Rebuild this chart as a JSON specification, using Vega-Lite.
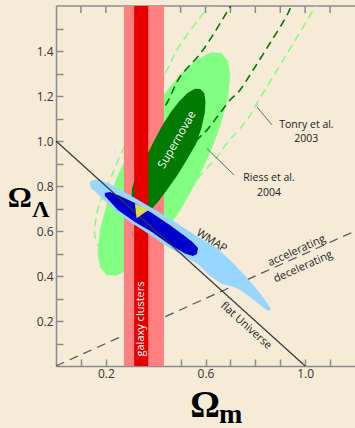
{
  "$schema": "https://vega.github.io/schema/vega-lite/v6.json",
  "width": 299,
  "height": 360,
  "autosize": {"type": "none"},
  "padding": {"left": 56, "top": 6, "right": 0, "bottom": 62},
  "background": "#F5EBD7",
  "config": {"view": {"stroke": null}},
  "datasets": {
    "lg": [
      {"i":0,"om":0.664,"ol":1.391},{"i":1,"om":0.691,"ol":1.355},{"i":2,"om":0.699,"ol":1.287},{"i":3,"om":0.690,"ol":1.193},
      {"i":4,"om":0.663,"ol":1.079},{"i":5,"om":0.621,"ol":0.952},{"i":6,"om":0.565,"ol":0.822},{"i":7,"om":0.501,"ol":0.697},
      {"i":8,"om":0.432,"ol":0.586},{"i":9,"om":0.363,"ol":0.496},{"i":10,"om":0.299,"ol":0.433},{"i":11,"om":0.244,"ol":0.402},
      {"i":12,"om":0.202,"ol":0.404},{"i":13,"om":0.176,"ol":0.441},{"i":14,"om":0.167,"ol":0.508},{"i":15,"om":0.176,"ol":0.602},
      {"i":16,"om":0.203,"ol":0.717},{"i":17,"om":0.246,"ol":0.843},{"i":18,"om":0.301,"ol":0.973},{"i":19,"om":0.365,"ol":1.099},
      {"i":20,"om":0.434,"ol":1.210},{"i":21,"om":0.503,"ol":1.300},{"i":22,"om":0.567,"ol":1.363},{"i":23,"om":0.622,"ol":1.394}
    ],
    "dg": [
      {"i":0,"om":0.580,"ol":1.231},{"i":1,"om":0.595,"ol":1.212},{"i":2,"om":0.600,"ol":1.175},{"i":3,"om":0.597,"ol":1.123},
      {"i":4,"om":0.584,"ol":1.059},{"i":5,"om":0.562,"ol":0.987},{"i":6,"om":0.522,"ol":0.911},{"i":7,"om":0.485,"ol":0.844},
      {"i":8,"om":0.445,"ol":0.782},{"i":9,"om":0.409,"ol":0.729},{"i":10,"om":0.381,"ol":0.693},{"i":11,"om":0.357,"ol":0.673},
      {"i":12,"om":0.3286,"ol":0.6711},{"i":13,"om":0.3085,"ol":0.698},{"i":14,"om":0.3025,"ol":0.7333},{"i":15,"om":0.3045,"ol":0.7867},
      {"i":16,"om":0.3206,"ol":0.8444},{"i":17,"om":0.355,"ol":0.915},{"i":18,"om":0.388,"ol":0.989},{"i":19,"om":0.422,"ol":1.060},
      {"i":20,"om":0.458,"ol":1.124},{"i":21,"om":0.494,"ol":1.176},{"i":22,"om":0.528,"ol":1.213},{"i":23,"om":0.557,"ol":1.232}
    ],
    "riess": [
      {"i":0,"om":0.7387,"ol":1.6711},{"i":1,"om":0.6985,"ol":1.5956},{"i":2,"om":0.5899,"ol":1.4044},{"i":3,"om":0.4975,"ol":1.2844},
      {"i":4,"om":0.4452,"ol":1.1689},{"i":5,"om":0.3769,"ol":1.0578},{"i":6,"om":0.3367,"ol":0.96},{"i":7,"om":0.3407,"ol":0.88},
      {"i":8,"om":0.3769,"ol":0.8267},{"i":9,"om":0.4372,"ol":0.8444},{"i":10,"om":0.5176,"ol":0.9378},{"i":11,"om":0.5658,"ol":1.0044},
      {"i":12,"om":0.6060,"ol":1.0489},{"i":13,"om":0.6462,"ol":1.1067},{"i":14,"om":0.6985,"ol":1.1822},{"i":15,"om":0.7387,"ol":1.2267},
      {"i":16,"om":0.7910,"ol":1.3156},{"i":17,"om":0.8593,"ol":1.4356},{"i":18,"om":0.9317,"ol":1.5689},{"i":19,"om":0.9638,"ol":1.6711}
    ],
    "tonry": [
      {"i":0,"om":0.6503,"ol":1.6711},{"i":1,"om":0.6060,"ol":1.5911},{"i":2,"om":0.4975,"ol":1.4267},{"i":3,"om":0.4452,"ol":1.3156},
      {"i":4,"om":0.3568,"ol":1.1467},{"i":5,"om":0.2683,"ol":0.96},{"i":6,"om":0.2281,"ol":0.8578},{"i":7,"om":0.1759,"ol":0.7244},
      {"i":8,"om":0.1598,"ol":0.6489},{"i":9,"om":0.1558,"ol":0.5822},{"i":10,"om":0.1759,"ol":0.5289},{"i":11,"om":0.2241,"ol":0.5156},
      {"i":12,"om":0.2965,"ol":0.56},{"i":13,"om":0.4171,"ol":0.6489},{"i":14,"om":0.5377,"ol":0.7956},{"i":15,"om":0.6462,"ol":0.9289},
      {"i":16,"om":0.6864,"ol":0.9911},{"i":17,"om":0.7668,"ol":1.0933},{"i":18,"om":0.8070,"ol":1.1689},{"i":19,"om":0.9236,"ol":1.3822},
      {"i":20,"om":1.0402,"ol":1.5956},{"i":21,"om":1.0804,"ol":1.6711}
    ],
    "lb": [
      {"i":0,"om":0.1357,"ol":0.8133},{"i":1,"om":0.1477,"ol":0.8267},{"i":2,"om":0.1719,"ol":0.8289},{"i":3,"om":0.2241,"ol":0.8044},
      {"i":4,"om":0.3166,"ol":0.7467},{"i":5,"om":0.3849,"ol":0.7022},{"i":6,"om":0.4653,"ol":0.6489},{"i":7,"om":0.5578,"ol":0.5822},
      {"i":8,"om":0.5980,"ol":0.5556},{"i":9,"om":0.6462,"ol":0.5244},{"i":10,"om":0.7106,"ol":0.4578},{"i":11,"om":0.7668,"ol":0.3911},
      {"i":12,"om":0.8191,"ol":0.3244},{"i":13,"om":0.8472,"ol":0.2800},{"i":14,"om":0.8633,"ol":0.2533},{"i":15,"om":0.8513,"ol":0.2444},
      {"i":16,"om":0.8191,"ol":0.2711},{"i":17,"om":0.7789,"ol":0.3067},{"i":18,"om":0.7467,"ol":0.3333},{"i":19,"om":0.7226,"ol":0.3467},
      {"i":20,"om":0.6985,"ol":0.3556},{"i":21,"om":0.6663,"ol":0.3644},{"i":22,"om":0.6181,"ol":0.4},{"i":23,"om":0.5698,"ol":0.4533},
      {"i":24,"om":0.5176,"ol":0.4844},{"i":25,"om":0.4492,"ol":0.5289},{"i":26,"om":0.3849,"ol":0.5778},{"i":27,"om":0.3166,"ol":0.6267},
      {"i":28,"om":0.2482,"ol":0.68},{"i":29,"om":0.1960,"ol":0.7333},{"i":30,"om":0.1598,"ol":0.7733},{"i":31,"om":0.1397,"ol":0.7911}
    ],
    "db": [
      {"i":0,"om":0.1960,"ol":0.7689},{"i":1,"om":0.2161,"ol":0.7733},{"i":2,"om":0.2482,"ol":0.76},{"i":3,"om":0.3166,"ol":0.7244},
      {"i":4,"om":0.3849,"ol":0.68},{"i":5,"om":0.4653,"ol":0.62},{"i":6,"om":0.5457,"ol":0.5533},{"i":7,"om":0.5698,"ol":0.5244},
      {"i":8,"om":0.5658,"ol":0.4978},{"i":9,"om":0.5497,"ol":0.4889},{"i":10,"om":0.5176,"ol":0.5},{"i":11,"om":0.4492,"ol":0.5444},
      {"i":12,"om":0.3849,"ol":0.5956},{"i":13,"om":0.3166,"ol":0.64},{"i":14,"om":0.2482,"ol":0.6933},{"i":15,"om":0.2080,"ol":0.7422},
      {"i":16,"om":0.1960,"ol":0.7556}
    ],
    "yel": [
      {"i":0,"om":0.3166,"ol":0.7231},{"i":1,"om":0.3709,"ol":0.6933},{"i":2,"om":0.3234,"ol":0.6564}
    ]
  },
  "encoding": {
    "x": {"field": "om", "type": "quantitative", "title": null,
      "scale": {"domain": [0, 1.2], "nice": false, "zero": false},
      "axis": {"orient": "bottom", "values": [0.1,0.2,0.3,0.4,0.5,0.6,0.7,0.8,0.9,1.0,1.1],
        "labelExpr": "indexof([2,6,10], round(datum.value*10)) >= 0 ? format(datum.value, '.1f') : ''",
        "labelOverlap": false, "labelFlush": false, "grid": false,
        "tickSize": -7, "tickWidth": 1.5, "tickColor": "#8C8C8C", "domainColor": "#8C8C8C", "domainWidth": 1.5,
        "labelFont": "Open Sans", "labelFontSize": 12, "labelColor": "#333333", "labelPadding": 9}},
    "y": {"field": "ol", "type": "quantitative", "title": null,
      "scale": {"domain": [0, 1.6], "nice": false, "zero": false},
      "axis": {"orient": "left", "values": [0.1,0.2,0.3,0.4,0.5,0.6,0.7,0.8,0.9,1.0,1.1,1.2,1.3,1.4,1.5],
        "labelExpr": "round(datum.value*10) % 2 == 0 ? format(datum.value, '.1f') : ''",
        "labelOverlap": false, "labelFlush": false, "grid": false,
        "tickSize": -7, "tickWidth": 1.5, "tickColor": "#8C8C8C", "domainColor": "#8C8C8C", "domainWidth": 1.5,
        "labelFont": "Open Sans", "labelFontSize": 12, "labelColor": "#333333", "labelPadding": 10}}
  },
  "layer": [
    {
      "data": {"values": [{"om": 0, "ol": 0}, {"om": 1.2, "ol": 0.6}]},
      "mark": {"type": "line", "stroke": "#555555", "strokeWidth": 1.2, "strokeDash": [9, 6]},
      "encoding": {}
    },
    {
      "data": {"values": [
        {"om": 0.1, "ol": 1.6, "ol2": 1.569}, {"om": 0.2, "ol": 1.6, "ol2": 1.569}, {"om": 0.3, "ol": 1.6, "ol2": 1.569},
        {"om": 0.4, "ol": 1.6, "ol2": 1.569}, {"om": 0.5, "ol": 1.6, "ol2": 1.569}, {"om": 0.6, "ol": 1.6, "ol2": 1.569},
        {"om": 0.7, "ol": 1.6, "ol2": 1.569}, {"om": 0.8, "ol": 1.6, "ol2": 1.569}, {"om": 0.9, "ol": 1.6, "ol2": 1.569},
        {"om": 1.0, "ol": 1.6, "ol2": 1.569}, {"om": 1.1, "ol": 1.6, "ol2": 1.569}
      ]},
      "mark": {"type": "rule", "stroke": "#8C8C8C", "strokeWidth": 1.5},
      "encoding": {"y2": {"field": "ol2"}}
    },
    {
      "data": {"values": [{"om": 0, "ol": 1.6, "om2": 1.2}]},
      "mark": {"type": "rule", "stroke": "#8C8C8C", "strokeWidth": 1.5},
      "encoding": {"x2": {"field": "om2"}}
    },
    {
      "data": {"name": "lg"},
      "mark": {"type": "line", "interpolate": "linear-closed", "fill": "#80FF80", "strokeWidth": 0},
      "encoding": {"order": {"field": "i", "type": "quantitative"}}
    },
    {
      "data": {"name": "tonry"},
      "mark": {"type": "line", "interpolate": "cardinal", "clip": true, "stroke": "#80FF80", "strokeWidth": 1.5, "strokeDash": [8, 5]},
      "encoding": {"order": {"field": "i", "type": "quantitative"}}
    },
    {
      "data": {"name": "riess"},
      "mark": {"type": "line", "interpolate": "cardinal", "clip": true, "stroke": "#007A00", "strokeWidth": 1.6, "strokeDash": [8, 5]},
      "encoding": {"order": {"field": "i", "type": "quantitative"}}
    },
    {
      "data": {"values": [{"om": 0.2724, "om2": 0.4332, "ol": 0, "ol2": 1.6}]},
      "mark": {"type": "rect", "color": "#FF8080"},
      "encoding": {"x2": {"field": "om2"}, "y2": {"field": "ol2"}}
    },
    {
      "data": {"name": "dg"},
      "mark": {"type": "line", "interpolate": "linear-closed", "fill": "#007A00", "strokeWidth": 0},
      "encoding": {"order": {"field": "i", "type": "quantitative"}}
    },
    {
      "data": {"values": [{"om": 0.3139, "om2": 0.3702, "ol": 0, "ol2": 1.6}]},
      "mark": {"type": "rect", "color": "#E60000"},
      "encoding": {"x2": {"field": "om2"}, "y2": {"field": "ol2"}}
    },
    {
      "data": {"name": "lb"},
      "mark": {"type": "line", "interpolate": "linear-closed", "fill": "#99D6FF", "strokeWidth": 0},
      "encoding": {"order": {"field": "i", "type": "quantitative"}}
    },
    {
      "data": {"name": "db"},
      "mark": {"type": "line", "interpolate": "linear-closed", "fill": "#0000CC", "strokeWidth": 0},
      "encoding": {"order": {"field": "i", "type": "quantitative"}}
    },
    {
      "data": {"values": [{"om": 0, "ol": 1}, {"om": 1, "ol": 0}]},
      "mark": {"type": "line", "stroke": "#3A3A3A", "strokeWidth": 1.2},
      "encoding": {}
    },
    {
      "data": {"name": "yel"},
      "mark": {"type": "line", "interpolate": "linear-closed", "fill": "#DCDA50", "strokeWidth": 0},
      "encoding": {"order": {"field": "i", "type": "quantitative"}}
    },
    {
      "data": {"values": [
        {"om": 0.8058, "ol": 1.1524, "om2": 0.8661, "ol2": 1.0724},
        {"om": 0.6048, "ol": 0.9676, "om2": 0.7146, "ol2": 0.8489}
      ]},
      "mark": {"type": "rule", "stroke": "#666666", "strokeWidth": 1},
      "encoding": {"x2": {"field": "om2"}, "y2": {"field": "ol2"}}
    },
    {
      "data": {"values": [
        {"label": "Tonry et al.", "om": 1.005, "ol": 1.0711},
        {"label": "2003", "om": 1.004, "ol": 1.0111},
        {"label": "Riess et al.", "om": 0.855, "ol": 0.834},
        {"label": "2004", "om": 0.855, "ol": 0.770}
      ]},
      "mark": {"type": "text", "font": "Open Sans", "fontSize": 10.5, "color": "#222222", "align": "center", "baseline": "middle"},
      "encoding": {"text": {"field": "label", "type": "nominal"}}
    },
    {
      "data": {"values": [{"label": "Supernovae", "om": 0.4874, "ol": 1.0044}]},
      "mark": {"type": "text", "font": "Open Sans", "fontSize": 11.5, "color": "#FFFFFF", "angle": -60, "align": "center", "baseline": "middle"},
      "encoding": {"text": {"field": "label", "type": "nominal"}}
    },
    {
      "data": {"values": [{"label": "galaxy clusters", "om": 0.3427, "ol": 0.2089}]},
      "mark": {"type": "text", "font": "Open Sans", "fontSize": 11, "color": "#FFFFFF", "angle": -90, "align": "center", "baseline": "middle"},
      "encoding": {"text": {"field": "label", "type": "nominal"}}
    },
    {
      "data": {"values": [{"label": "WMAP", "om": 0.6241, "ol": 0.5556}]},
      "mark": {"type": "text", "font": "Open Sans", "fontSize": 11, "color": "#222222", "angle": 32, "align": "center", "baseline": "middle"},
      "encoding": {"text": {"field": "label", "type": "nominal"}}
    },
    {
      "data": {"values": [
        {"label": "accelerating", "om": 0.9658, "ol": 0.5111},
        {"label": "decelerating", "om": 0.9920, "ol": 0.44}
      ]},
      "mark": {"type": "text", "font": "Open Sans", "fontSize": 11, "color": "#222222", "angle": -24, "align": "center", "baseline": "middle"},
      "encoding": {"text": {"field": "label", "type": "nominal"}}
    },
    {
      "data": {"values": [{"label": "flat Universe", "om": 0.7622, "ol": 0.1787}]},
      "mark": {"type": "text", "font": "Open Sans", "fontSize": 11, "color": "#222222", "angle": 42, "align": "center", "baseline": "middle"},
      "encoding": {"text": {"field": "label", "type": "nominal"}}
    },
    {
      "data": {"values": [{"label": "Ω", "om": -0.1457, "ol": 0.7067}]},
      "mark": {"type": "text", "font": "Liberation Serif", "fontWeight": "bold", "fontSize": 30, "color": "#000000", "align": "center", "baseline": "alphabetic"},
      "encoding": {"text": {"field": "label", "type": "nominal"}}
    },
    {
      "data": {"values": [{"label": "Λ", "om": -0.0613, "ol": 0.6622}]},
      "mark": {"type": "text", "font": "Liberation Serif", "fontWeight": "bold", "fontSize": 24, "color": "#000000", "align": "center", "baseline": "alphabetic"},
      "encoding": {"text": {"field": "label", "type": "nominal"}}
    },
    {
      "data": {"values": [{"label": "Ω", "om": 0.598, "ol": -0.2253}]},
      "mark": {"type": "text", "font": "Liberation Serif", "fontWeight": "bold", "fontSize": 37, "color": "#000000", "align": "center", "baseline": "alphabetic"},
      "encoding": {"text": {"field": "label", "type": "nominal"}}
    },
    {
      "data": {"values": [{"label": "m", "om": 0.7005, "ol": -0.2533}]},
      "mark": {"type": "text", "font": "Liberation Serif", "fontWeight": "bold", "fontSize": 28, "color": "#000000", "align": "center", "baseline": "alphabetic"},
      "encoding": {"text": {"field": "label", "type": "nominal"}}
    }
  ]
}
